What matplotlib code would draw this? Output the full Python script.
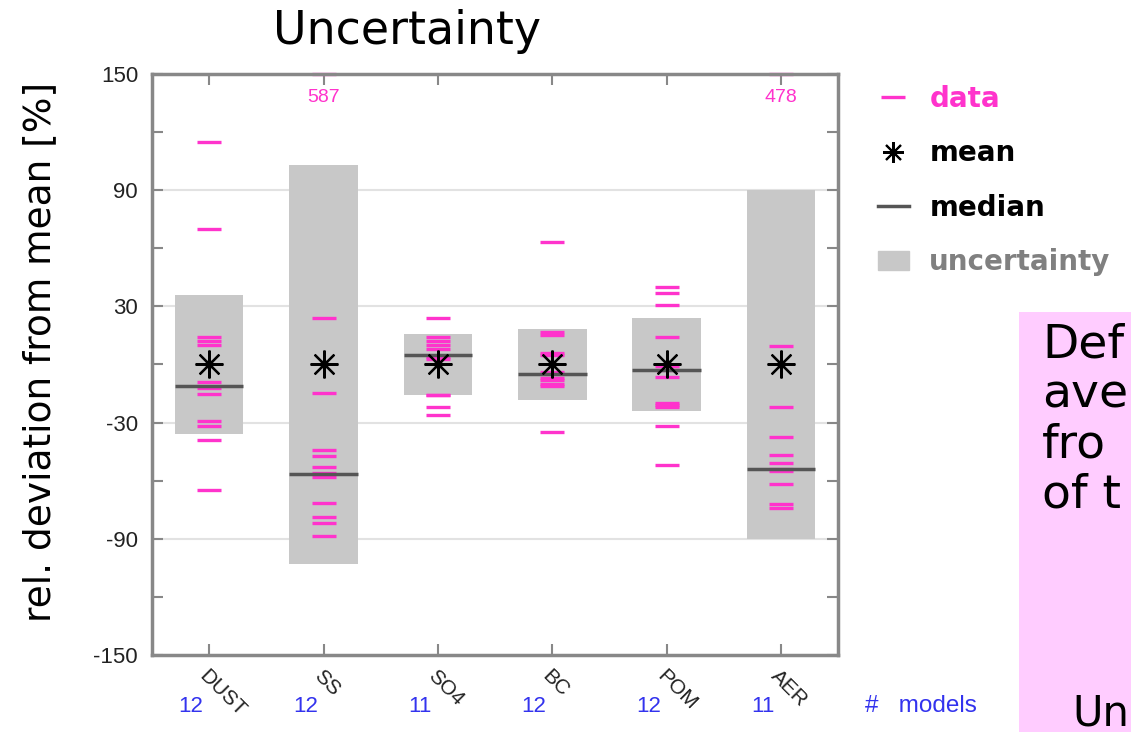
import numpy as np
import matplotlib
matplotlib.use('Agg')
import matplotlib.pyplot as plt
from matplotlib.lines import Line2D
from matplotlib.patches import Patch, Rectangle

# ---------------- data ----------------
categories = ['DUST', 'SS', 'SO4', 'BC', 'POM', 'AER']
n_models = [12, 12, 11, 12, 12, 11]

dust = [115, 70, 14, 12, 10, -9, -12, -15, -29, -32, -39, -65]
ss = [587, 24, -14.5, -44, -47, -53, -56, -58, -71.5, -79, -82, -88.5]
so4 = [24, 14, 12, 10, 8, 4, 3, -15.5, -16, -22, -26]
bc = [63, 17, 15, 6, 5, -4, -5, -7, -8, -10, -11, -35]
pom = [40, 37, 30.5, 14, -1, -2.6, -6.7, -20, -21, -22, -32, -52]
aer = [478, 9.5, -21.7, -37.6, -46.5, -51, -53.8, -55, -61.7, -72, -74]
data = [dust, ss, so4, bc, pom, aer]

means = [0, 0, 0, 0, 0, 0]
medians = [-11, -56.5, 5, -5, -2.6, -53.8]
uncert = [36, 103, 15.5, 18.5, 24, 90]

yticks = [150, 90, 30, -30, -90, -150]
yminor = [120, 60, 0, -60, -120]
ymax = 150

# visible part of the side note (cut at the slide edge)
side_lines = ['Def', 'ave', 'fro', 'of t']
side_last = 'Un'

pink = '#ff33cc'
blue = '#3333ee'
grey_box = '#c8c8c8'

# ---------------- figure ----------------
fig = plt.figure(figsize=(11.31, 7.32), dpi=100)
ax = fig.add_axes([0.1344, 0.1052, 0.6066, 0.7937])

x = np.arange(1, len(categories) + 1)

for g in [90, 30, -30, -90]:
    ax.axhline(g, color='#e2e2e2', lw=1.5, zorder=0)

# uncertainty boxes
ax.bar(x, 2 * np.array(uncert), bottom=np.array(means) - np.array(uncert),
       width=0.6, color=grey_box, zorder=1)

# data dashes, off-scale values pinned to the top with their value
for xi, vals in zip(x, data):
    v = np.minimum(vals, ymax)
    ax.plot([xi] * len(v), v, ls='none', marker='_', ms=17, mew=2.4,
            color=pink, zorder=2, clip_on=False)
    for val in vals:
        if val > ymax:
            ax.text(xi, 138, str(int(val)), color=pink, ha='center', va='center',
                    fontsize=14, family='Liberation Sans')

# medians
ax.hlines(medians, x - 0.3, x + 0.3, color='#555555', lw=2.5, zorder=3)

# means
ax.plot(x, means, ls='none', marker=(8, 2, 0), ms=20, mew=1.6, color='black', zorder=4)
ax.plot(x, means, ls='none', marker='o', ms=5, color='black', zorder=4)

ax.set_xlim(0.5, 6.5)
ax.set_ylim(-150, 150)
ax.set_yticks(yticks)
ax.set_yticks(yminor, minor=True)
ax.set_yticklabels([str(t) for t in yticks], fontsize=16, family='Liberation Sans',
                   color='#222222')
ax.set_xticks(x)
ax.set_xticklabels([])
ax.tick_params(which='both', direction='in', left=True, right=True, top=True,
               bottom=True, length=8, width=1.5, color='#888888')
ax.tick_params(axis='y', pad=10)
for s in ax.spines.values():
    s.set_color('#888888')
    s.set_linewidth(2.5)

# category labels and model counts
for xi, cat, n in zip(x, categories, n_models):
    ax.text(xi + 0.0, -0.02, cat, transform=ax.get_xaxis_transform(),
            rotation=-45, rotation_mode='anchor', ha='left', va='top',
            fontsize=15, family='Liberation Sans', color='#222222')
    ax.text(xi - 0.16, -0.088, str(n), transform=ax.get_xaxis_transform(),
            color=blue, ha='center', va='center', fontsize=16, family='Liberation Sans')
fig.text(865 / 1131, 1 - 706 / 732, '#   models', color=blue, fontsize=17.5,
         va='center', family='Liberation Sans')

# titles
fig.text(407 / 1131, 1 - 32 / 732, 'Uncertainty', fontsize=33, ha='center', va='center')
fig.text(40 / 1131, 1 - 352 / 732, 'rel. deviation from mean [%]', rotation=90,
         fontsize=27, ha='center', va='center')

# legend
handles = [Line2D([], [], ls='none', marker='_', ms=17, mew=2.4, color=pink),
           Line2D([], [], ls='none', marker=(8, 2, 0), ms=15, mew=1.5, color='black'),
           Line2D([], [], color='#555555', lw=2.5),
           Patch(color=grey_box)]
labels = ['data', 'mean', 'median', 'uncertainty']
leg = ax.legend(handles, labels, loc='upper left', bbox_to_anchor=(0.764, 0.903),
                bbox_transform=fig.transFigure, frameon=False,
                prop={'size': 20, 'weight': 'bold'}, labelspacing=0.95,
                handlelength=1.1, handletextpad=0.75, borderpad=0)
for t, c in zip(leg.get_texts(), [pink, 'black', 'black', '#808080']):
    t.set_color(c)

# pink side panel
fig.add_artist(Rectangle((1019 / 1131, 0), 0.2, 1 - 312 / 732, transform=fig.transFigure,
                         facecolor='#ffccff', edgecolor='none'))
for i, line in enumerate(side_lines):
    fig.text(1042 / 1131, 1 - (358 + 50 * i) / 732, line, fontsize=34, va='baseline')
fig.text(1072 / 1131, 1 - 725 / 732, side_last, fontsize=30, va='baseline')

fig.savefig('out.png', dpi=100)
